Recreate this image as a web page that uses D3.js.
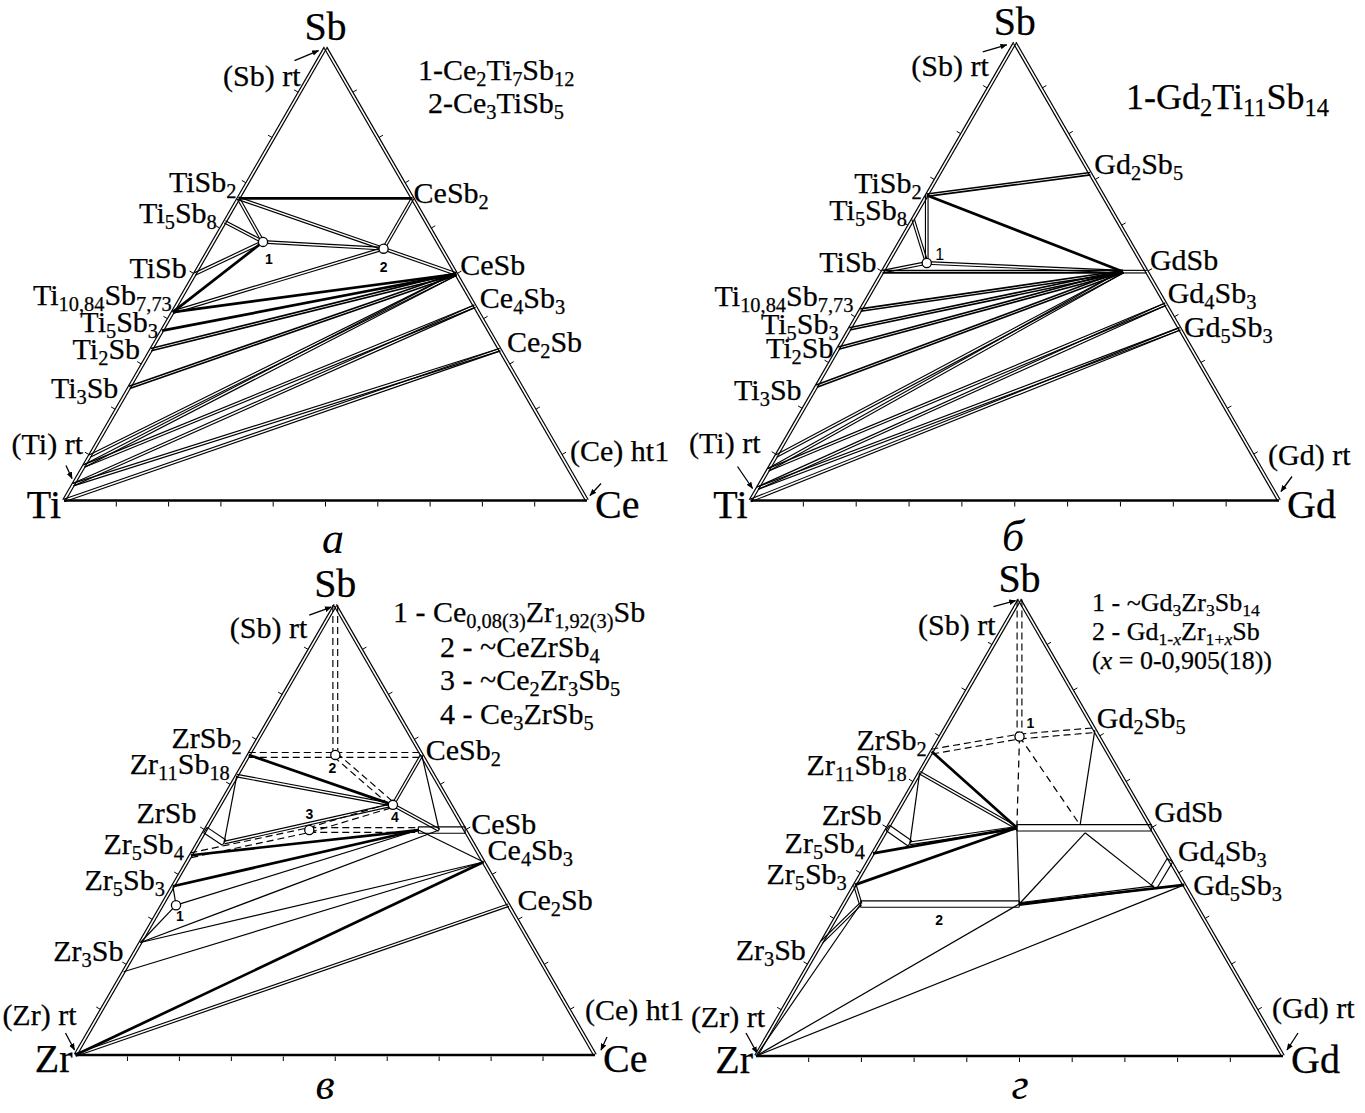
<!DOCTYPE html>
<html><head><meta charset="utf-8">
<script src="https://cdn.jsdelivr.net/npm/d3@7"></script>
<style>html,body{margin:0;padding:0;background:#fff}</style>
</head><body><svg id="c" width="1365" height="1113"></svg>
<script>
// ===================== DATA =====================
// phases: [name, Sb fraction, right-corner element fraction]
const phasesA = [
  ["Sb",1,0],["TiSb2",0.667,0],["Ti5Sb8",0.615,0],["TiSb",0.5,0],["Ti10.84Sb7.73",0.416,0],
  ["Ti5Sb3",0.375,0],["Ti2Sb",0.333,0],["Ti3Sb",0.25,0],["(Ti)a",0.098,0],["(Ti)b",0.076,0],["(Ti)c",0.035,0],["Ti",0,0],
  ["CeSb2",0.667,0.333],["CeSb",0.5,0.5],["Ce4Sb3",0.429,0.571],["Ce2Sb",0.333,0.667],["Ce",0,1],
  ["1",0.571,0.095],["2",0.556,0.333]
];
const tiesA = [
  ["TiSb2","CeSb2","thick"],["TiSb2","1","double"],["Ti5Sb8","1","double"],["TiSb","1","double"],
  ["Ti10.84Sb7.73","1","thick"],["1","2","double"],["TiSb2","2","double"],["2","CeSb","double"],
  ["CeSb2","2","double"],["2","Ti10.84Sb7.73","double"],["CeSb","Ti10.84Sb7.73","thick"],
  ["CeSb","Ti5Sb3","thick"],["CeSb","Ti2Sb","dthick"],["CeSb","Ti3Sb","dthick"],
  ["CeSb","(Ti)a","double"],["CeSb","(Ti)b","double"],["Ce4Sb3","(Ti)b","double"],["Ce4Sb3","(Ti)c","double"],
  ["Ce2Sb","(Ti)c","double"],["Ce2Sb","Ti","double"]
];
const labelsA = [["TiSb2","TiSb_{2}"],["Ti5Sb8","Ti_{5}Sb_{8}"],["TiSb","TiSb"],["Ti10.84Sb7.73","Ti_{10,84}Sb_{7,73}"],
  ["Ti5Sb3","Ti_{5}Sb_{3}"],["Ti2Sb","Ti_{2}Sb"],["Ti3Sb","Ti_{3}Sb"],
  ["CeSb2","CeSb_{2}"],["CeSb","CeSb"],["Ce4Sb3","Ce_{4}Sb_{3}"],["Ce2Sb","Ce_{2}Sb"]];
const legendA = ["1-Ce_{2}Ti_{7}Sb_{12}","2-Ce_{3}TiSb_{5}"];

const phasesB = [
  ["Sb",1,0],["TiSb2",0.667,0],["Ti5Sb8",0.615,0],["TiSb",0.5,0],["Ti10.84Sb7.73",0.416,0],
  ["Ti5Sb3",0.375,0],["Ti2Sb",0.333,0],["Ti3Sb",0.25,0],["(Ti)a",0.097,0],["(Ti)b",0.067,0],["(Ti)c",0.027,0],["Ti",0,0],
  ["Gd2Sb5",0.714,0.286],["GdSb'",0.5,0.455],["GdSb",0.5,0.5],["Gd4Sb3",0.429,0.571],["Gd5Sb3",0.375,0.625],["Gd",0,1],
  ["1",0.519,0.074]
];
const tiesB = [
  ["TiSb2","Gd2Sb5","dthick"],["TiSb2","GdSb'","thick"],["TiSb2","1","double"],["Ti5Sb8","1","double"],
  ["TiSb","1","double"],["1","GdSb'","double"],["TiSb","GdSb'","dthick"],["GdSb'","GdSb","double"],
  ["GdSb'","Ti10.84Sb7.73","dthick"],["GdSb'","Ti5Sb3","dthick"],["GdSb'","Ti2Sb","dthick"],["GdSb'","Ti3Sb","dthick"],
  ["GdSb'","(Ti)a","double"],["GdSb'","(Ti)b","double"],["Gd4Sb3","(Ti)b","double"],["Gd4Sb3","(Ti)c","double"],
  ["Gd5Sb3","(Ti)c","double"],["Gd5Sb3","Ti","double"]
];
const labelsB = [["TiSb2","TiSb_{2}"],["Ti5Sb8","Ti_{5}Sb_{8}"],["TiSb","TiSb"],["Ti10.84Sb7.73","Ti_{10,84}Sb_{7,73}"],
  ["Ti5Sb3","Ti_{5}Sb_{3}"],["Ti2Sb","Ti_{2}Sb"],["Ti3Sb","Ti_{3}Sb"],
  ["Gd2Sb5","Gd_{2}Sb_{5}"],["GdSb","GdSb"],["Gd4Sb3","Gd_{4}Sb_{3}"],["Gd5Sb3","Gd_{5}Sb_{3}"]];
const legendB = ["1-Gd_{2}Ti_{11}Sb_{14}"];

const phasesC = [
  ["Sb",1,0],["ZrSb2",0.667,0],["Zr11Sb18",0.621,0],["ZrSb",0.5,0],["ZrSb'",0.472,0.05],["Zr5Sb4",0.444,0],
  ["Zr5Sb3",0.375,0],["Zr3Sb",0.25,0],["(Zr)a",0.185,0],["Zr",0,0],
  ["CeSb2",0.667,0.333],["CeSb'",0.5,0.41],["CeSb''",0.5,0.45],["CeSb",0.5,0.5],["Ce4Sb3",0.429,0.571],["Ce2Sb",0.333,0.667],["Ce",0,1],
  ["1",0.333,0.027],["2",0.667,0.1667],["3",0.5,0.2],["4",0.556,0.333]
];
const tiesC = [
  ["Sb","2","dash2"],["ZrSb2","2","dash2"],["2","CeSb2","dash2"],["2","4","dash2"],
  ["ZrSb2","4","thick"],["Zr11Sb18","4","double"],["CeSb2","4","double"],["CeSb2","CeSb''","thin"],["4","CeSb''","double"],
  ["ZrSb","ZrSb'","band"],["Zr11Sb18","ZrSb'","thin"],["ZrSb'","4","double"],
  ["Zr5Sb4","3","dash2"],["3","CeSb'","dash2"],["3","4","dash2"],
  ["Zr5Sb4","CeSb'","thick"],["CeSb'","CeSb","band"],["Zr5Sb3","CeSb'","thick"],["1","CeSb'","thin"],
  ["Zr3Sb","CeSb''","thin"],["CeSb'","Ce4Sb3","thin"],["Zr3Sb","Ce4Sb3","thin"],["(Zr)a","Ce4Sb3","thin"],
  ["Zr","Ce4Sb3","thick"],["Zr","Ce2Sb","double"],["Zr5Sb3","1","thin"],["1","Zr3Sb","thin"]
];
const labelsC = [["ZrSb2","ZrSb_{2}"],["Zr11Sb18","Zr_{11}Sb_{18}"],["ZrSb","ZrSb"],["Zr5Sb4","Zr_{5}Sb_{4}"],
  ["Zr5Sb3","Zr_{5}Sb_{3}"],["Zr3Sb","Zr_{3}Sb"],
  ["CeSb2","CeSb_{2}"],["CeSb","CeSb"],["Ce4Sb3","Ce_{4}Sb_{3}"],["Ce2Sb","Ce_{2}Sb"]];
const legendC = ["1 - Ce_{0,08(3)}Zr_{1,92(3)}Sb","2 - ~CeZrSb_{4}","3 - ~Ce_{2}Zr_{3}Sb_{5}","4 - Ce_{3}ZrSb_{5}"];

const phasesD = [
  ["Sb",1,0],["ZrSb2",0.667,0],["Zr11Sb18",0.621,0],["ZrSb",0.5,0],["ZrSb'",0.466,0.059],["Zr5Sb4",0.444,0],
  ["Zr5Sb3",0.375,0],["2a",0.333,0.032],["2b",0.333,0.333],["Zr3Sb",0.25,0],["Zr",0,0],
  ["Gd2Sb5",0.714,0.286],["GdSb'",0.5,0.245],["GdSb''",0.506,0.362],["GdSb'''",0.489,0.38],["GdSb",0.5,0.5],
  ["Gd4Sb3",0.429,0.571],["Gd4Sb3'",0.37,0.57],["Gd5Sb3",0.375,0.625],["Gd",0,1],
  ["1",0.7,0.15]
];
const tiesD = [
  ["Sb","1","dash2"],["1","GdSb'","dash1"],["ZrSb2","1","dash2"],["1","Gd2Sb5","dash2"],["1","GdSb''","dash1"],
  ["Gd2Sb5","GdSb''","thin"],["ZrSb2","GdSb'","thick"],["Zr11Sb18","GdSb'","double"],["Zr11Sb18","ZrSb'","thin"],
  ["ZrSb","ZrSb'","band"],["ZrSb'","GdSb'","double"],["Zr5Sb4","GdSb'","thick"],["Zr5Sb3","GdSb'","thick"],
  ["Zr5Sb3","2a","double"],["GdSb'","GdSb","band"],["2a","2b","band"],["GdSb'","2b","thin"],
  ["2b","GdSb'''","thin"],["GdSb'''","Gd4Sb3'","thin"],["Gd4Sb3","Gd4Sb3'","band"],["2b","Gd4Sb3'","double"],
  ["2b","Gd5Sb3","thick"],["Zr","2b","thin"],["Zr","Gd5Sb3","thin"],["2a","Zr3Sb","double"],["2a","Zr","thin"]
];
const labelsD = [["ZrSb2","ZrSb_{2}"],["Zr11Sb18","Zr_{11}Sb_{18}"],["ZrSb","ZrSb"],["Zr5Sb4","Zr_{5}Sb_{4}"],
  ["Zr5Sb3","Zr_{5}Sb_{3}"],["Zr3Sb","Zr_{3}Sb"],
  ["Gd2Sb5","Gd_{2}Sb_{5}"],["GdSb","GdSb"],["Gd4Sb3","Gd_{4}Sb_{3}"],["Gd5Sb3","Gd_{5}Sb_{3}"]];
const legendD = ["1 - ~Gd_{3}Zr_{3}Sb_{14}","2 - Gd_{1-*x*}Zr_{1+*x*}Sb","(*x* = 0-0,905(18))"];

const cornersA = ["Ti","Ce","Sb"], cornersB = ["Ti","Gd","Sb"], cornersC = ["Zr","Ce","Sb"], cornersD = ["Zr","Gd","Sb"];
const solidA = ["(Ti) rt","(Ce) ht1","(Sb) rt"], solidB = ["(Ti) rt","(Gd) rt","(Sb) rt"],
      solidC = ["(Zr) rt","(Ce) ht1","(Sb) rt"], solidD = ["(Zr) rt","(Gd) rt","(Sb) rt"];
const pointsA = ["1","2"], pointsB = ["1"], pointsC = ["1","2","3","4"], pointsD = ["1"];
const panelLetters = ["а","б","в","г"];

// ===================== LAYOUT =====================
const SERIF = "'Liberation Serif','Times New Roman',serif";
const SANS = "'Liberation Sans',Arial,sans-serif";
const LAB = 30, CORNER = 40;
const panels = [
  {ph:phasesA, ties:tiesA, labels:labelsA, legend:legendA, corners:cornersA, solids:solidA, pts:pointsA, letter:panelLetters[0],
   x0:64, x1:587, y0:500.5,
   off:{TiSb2:[-2,-6],Ti5Sb8:[-8,1],TiSb:[-8,4],"Ti10.84Sb7.73":[-1,-7],Ti5Sb3:[-4,1],Ti2Sb:[-11,9],Ti3Sb:[-11,11],
        CeSb2:[1,5],CeSb:[4,1],Ce4Sb3:[5,2],Ce2Sb:[7,2]},
   leg:{x:[418,428], y:[80,113], fs:30},
   sol:[[19,-47,"end",[2,-35],[8,-22]],[-17,-40,"start",[14,-17],[3,-5]],[-25,38,"end",[-31,13],[-7,3]]],
   nums:[["1",6,22,"b"],["2",0,23,"b"]], letterPos:[333,553]},
  {ph:phasesB, ties:tiesB, labels:labelsB, legend:legendB, corners:cornersB, solids:solidB, pts:pointsB, letter:panelLetters[1],
   x0:750.5, x1:1279, y0:500.5,
   off:{TiSb2:[-5,-2],Ti5Sb8:[-6,1],TiSb:[-6,0],"Ti10.84Sb7.73":[-7,-4],Ti5Sb3:[-11,5],Ti2Sb:[-5,10],Ti3Sb:[-15,14],
        Gd2Sb5:[4,0],GdSb:[3,-2],Gd4Sb3:[2,-1],Gd5Sb3:[4,8]},
   leg:{x:[1126], y:[109], fs:36},
   sol:[[10,-48,"end",[-13,-34],[2,-12]],[-11,-36,"start",[13,-24],[2,-9]],[-26,33,"end",[-32,9],[-8,2]]],
   nums:[["1",13,-3,"r"]], letterPos:[1013,551]},
  {ph:phasesC, ties:tiesC, labels:labelsC, legend:legendC, corners:cornersC, solids:solidC, pts:pointsC, letter:panelLetters[2],
   x0:75.5, x1:595, y0:1055,
   off:{ZrSb2:[-7,-7],Zr11Sb18:[-7,-2],ZrSb:[-9,-7],Zr5Sb4:[-7,-1],Zr5Sb3:[-8,4],Zr3Sb:[-17,18],
        CeSb2:[4,5],CeSb:[6,4],Ce4Sb3:[4,-2],Ce2Sb:[9,5]},
   leg:{x:[393,440,440,440], y:[622,657,690,724], fs:30},
   sol:[[1,-30,"end",[-10,-22],[-1,-5]],[-10,-35,"start",[12,-18],[6,-5]],[-28,33,"end",[-26,10],[-4,2]]],
   nums:[["1",4,16,"b"],["2",-3,18,"b"],["3",0,-11,"b"],["4",2,17,"b"]], letterPos:[325,1099]},
  {ph:phasesD, ties:tiesD, labels:labelsD, legend:legendD, corners:cornersD, solids:solidD, pts:pointsD, letter:panelLetters[3],
   x0:756, x1:1283, y0:1056,
   off:{ZrSb2:[-5,-2],Zr11Sb18:[-13,2],ZrSb:[-6,-3],Zr5Sb4:[-8,0],Zr5Sb3:[-8,-1],Zr3Sb:[-16,18],
        Gd2Sb5:[2,-2],GdSb:[3,-6],Gd4Sb3:[8,1],Gd5Sb3:[9,10]},
   leg:{x:[1092,1092,1092], y:[611,640,669], fs:26},
   sol:[[9,-29,"end",[-10,-23],[1,-3]],[-11,-38,"start",[15,-23],[4,-6]],[-24,35,"end",[-26,7],[-4,1]]],
   nums:[["1",11,-9,"b"],["2",-80,21,"b","2b"]], letterPos:[1020,1099]}
];

const KIND = {
  double:{off:1.3,w:1.15}, dthick:{off:1.2,w:1.6}, thick:{off:0,w:2.7}, thin:{off:0,w:1.2},
  band:{off:3.2,w:1.15,caps:true}, dash2:{off:2.4,w:1.15,dash:"7,4"}, dash1:{off:0,w:1.25,dash:"7,5"},
  edge:{off:1.4,w:1.2}
};

// ===================== DRAW =====================
const svg = d3.select("#c");
svg.append("rect").attr("width",1365).attr("height",1113).attr("fill","#fff");
svg.append("defs").append("marker").attr("id","arr").attr("viewBox","0 0 10 10").attr("refX",9).attr("refY",5)
  .attr("markerWidth",7).attr("markerHeight",7).attr("orient","auto").attr("markerUnits","userSpaceOnUse")
  .append("path").attr("d","M0,1 L10,5 L0,9 Z").attr("fill","#000");

function rich(textSel, str, fs){
  const runs=[]; let cur="", sub=false, it=false;
  const push=()=>{ if(cur) runs.push({t:cur,sub,it}); cur=""; };
  for(let i=0;i<str.length;i++){
    const c=str[i];
    if(c==="_"&&str[i+1]==="{"){push();sub=true;i++;continue;}
    if(c==="}"&&sub){push();sub=false;continue;}
    if(c==="*"){push();it=!it;continue;}
    cur+=c;
  }
  push();
  let off=0; const sh=fs*0.2;
  runs.forEach(r=>{
    const tgt=r.sub?sh:0;
    textSel.append("tspan").attr("dy",(tgt-off).toFixed(2)).attr("font-size",r.sub?fs*0.68:fs)
      .attr("font-style",r.it?"italic":null).text(r.t);
    off=tgt;
  });
}
function txt(g,x,y,str,fs,anchor,family){
  const t=g.append("text").attr("x",x).attr("y",y).attr("text-anchor",anchor||"start")
    .attr("font-family",family||SERIF).attr("font-size",fs).attr("fill","#000")
    .attr("stroke","#000").attr("stroke-width",0.25);
  rich(t,str,fs); return t;
}
function seg(g,a,b,kind){
  const s=KIND[kind]; const dx=b[0]-a[0], dy=b[1]-a[1], L=Math.hypot(dx,dy)||1;
  const nx=-dy/L, ny=dx/L;
  const offs=s.off?[-s.off,s.off]:[0];
  offs.forEach(o=>{
    g.append("line").attr("x1",a[0]+nx*o).attr("y1",a[1]+ny*o).attr("x2",b[0]+nx*o).attr("y2",b[1]+ny*o)
      .attr("stroke","#000").attr("stroke-width",s.w).attr("stroke-dasharray",s.dash||null);
  });
  if(s.caps){
    [a,b].forEach(p=>g.append("line").attr("x1",p[0]-nx*s.off).attr("y1",p[1]-ny*s.off)
      .attr("x2",p[0]+nx*s.off).attr("y2",p[1]+ny*s.off).attr("stroke","#000").attr("stroke-width",s.w));
  }
}

panels.forEach(cfg=>{
  const g=svg.append("g");
  const W=cfg.x1-cfg.x0, H=W*Math.sqrt(3)/2;
  const xs=d3.scaleLinear().domain([0,1]).range([cfg.x0,cfg.x1]);
  const ys=d3.scaleLinear().domain([0,1]).range([cfg.y0,cfg.y0-H]);
  const pos=(sb,r)=>[xs(r+sb/2),ys(sb)];
  const P={}; cfg.ph.forEach(([n,sb,r])=>P[n]=pos(sb,r));
  const L=pos(0,0), R=pos(0,1), A=pos(1,0);

  // edges
  seg(g,L,A,"edge"); seg(g,R,A,"edge");
  g.append("line").attr("x1",L[0]).attr("y1",L[1]).attr("x2",R[0]).attr("y2",R[1]).attr("stroke","#000").attr("stroke-width",2.4);
  // ticks (every 10 %)
  d3.range(1,10).forEach(i=>{
    const f=i/10;
    const t=[[pos(f,0),[-0.866,-0.5]],[pos(f,1-f),[0.866,-0.5]],[pos(0,f),[0,1]]];
    t.forEach(([p,n])=>g.append("line").attr("x1",p[0]+n[0]*1.5).attr("y1",p[1]+n[1]*1.5)
      .attr("x2",p[0]+n[0]*6).attr("y2",p[1]+n[1]*6).attr("stroke","#000").attr("stroke-width",1));
  });
  // tie lines
  cfg.ties.forEach(([a,b,k])=>seg(g,P[a],P[b],k));
  // ternary compound points
  cfg.pts.forEach(n=>g.append("circle").attr("cx",P[n][0]).attr("cy",P[n][1]).attr("r",4.6)
    .attr("fill","#fff").attr("stroke","#000").attr("stroke-width",1.3));
  cfg.nums.forEach(([n,dx,dy,st,ref])=>{
    const p=P[ref||n];
    g.append("text").attr("x",p[0]+dx).attr("y",p[1]+dy).attr("text-anchor","middle")
      .attr("font-family",SANS).attr("font-weight",st==="b"?"bold":"normal").attr("font-size",st==="b"?14:16).text(n);
  });
  // compound labels
  const rF={}; cfg.ph.forEach(([n,sb,r])=>rF[n]=r);
  cfg.labels.forEach(([n,s])=>{
    const o=cfg.off[n]||[0,0]; const left=rF[n]===0;
    txt(g,P[n][0]+o[0],P[n][1]+o[1],s,LAB,left?"end":"start");
  });
  // corner labels
  txt(g,L[0]-3,L[1]+17,cfg.corners[0],CORNER,"end");
  txt(g,R[0]+8,R[1]+17,cfg.corners[1],CORNER,"start");
  txt(g,A[0],A[1]-8,cfg.corners[2],CORNER,"middle");
  // solid-solution annotations with arrows
  const cs=[L,R,A];
  cfg.sol.forEach((s,i)=>{
    const c=cs[i];
    txt(g,c[0]+s[0],c[1]+s[1],cfg.solids[i],LAB,s[2]);
    g.append("line").attr("x1",c[0]+s[3][0]).attr("y1",c[1]+s[3][1]).attr("x2",c[0]+s[4][0]).attr("y2",c[1]+s[4][1])
      .attr("stroke","#000").attr("stroke-width",1.3).attr("marker-end","url(#arr)");
  });
  // legend
  cfg.legend.forEach((s,i)=>txt(g,cfg.leg.x[i],cfg.leg.y[i],s,cfg.leg.fs,"start"));
  // panel letter
  g.append("text").attr("x",cfg.letterPos[0]).attr("y",cfg.letterPos[1]).attr("text-anchor","middle")
    .attr("font-family",SERIF).attr("font-style","italic").attr("font-size",44).text(cfg.letter);
});
</script></body></html>
